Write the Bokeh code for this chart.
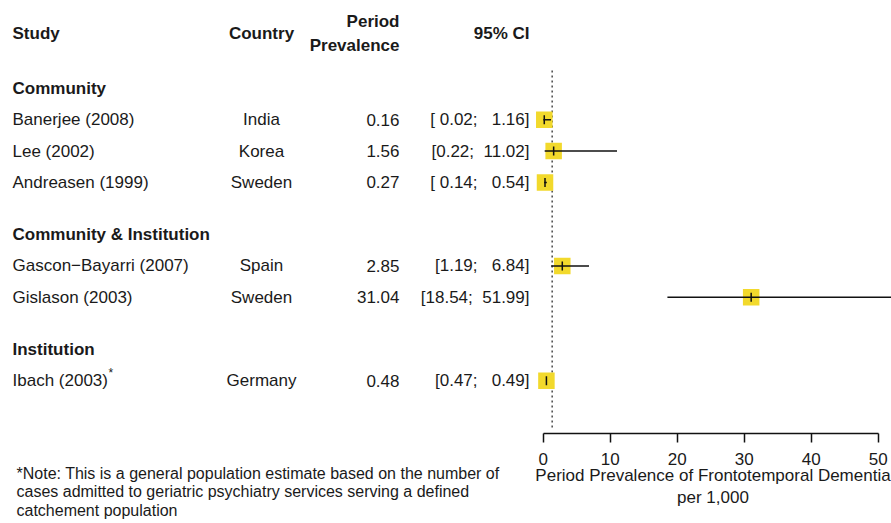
import math
from bokeh.plotting import figure
from bokeh.models import Range1d, LinearAxis, FixedTicker, ColumnDataSource, Title
from bokeh.layouts import row
from bokeh.core.properties import value
from bokeh.embed import file_html
from bokeh.resources import INLINE

# ---- data ----
groups = ["Community", "Community & Institution", "Institution"]
studies = ["Banerjee (2008)", "Lee (2002)", "Andreasen (1999)",
           "Gascon\u2212Bayarri (2007)", "Gislason (2003)", "Ibach (2003)"]
study_group = [0, 0, 0, 1, 1, 2]
countries = ["India", "Korea", "Sweden", "Spain", "Sweden", "Germany"]
prevalence = [0.16, 1.56, 0.27, 2.85, 31.04, 0.48]
ci_lower = [0.02, 0.22, 0.14, 1.19, 18.54, 0.47]
ci_upper = [1.16, 11.02, 0.54, 6.84, 51.99, 0.49]
ci_labels = ["[ 0.02;   1.16]", "[0.22;  11.02]", "[ 0.14;   0.54]",
             "[1.19;   6.84]", "[18.54;  51.99]", "[0.47;   0.49]"]
pooled = 1.34
x_ticks = [0, 10, 20, 30, 40, 50]
note_lines = ["*Note: This is a general population estimate based on the number of",
              "cases admitted to geriatric psychiatry services serving a defined",
              "catchement population"]

FONT = "Liberation Sans"
TXT = "#1a1a1a"
NB = "\u00a0"

# ---- row layout (px from top) ----
ROW0 = 88.0
STEP = 31.3
GAP = 0.67          # extra blank fraction of a row between groups
group_pos = {}
study_y = []
k = 0.0
prev_g = None
for g in study_group:
    if g != prev_g:
        if prev_g is not None:
            k += GAP
        group_pos[g] = ROW0 + STEP * k
        k += 1
        prev_g = g
    study_y.append(ROW0 + STEP * k)
    k += 1
group_y = [group_pos[i] for i in range(len(groups))]

H = 523
LW = 534
RW = 357
FRAME_H = 433
BOTTOM = H - FRAME_H

# ---- left table figure ----
left = figure(width=LW, height=H, output_backend="svg", toolbar_location=None,
              x_range=Range1d(0, LW), y_range=Range1d(FRAME_H, 0),
              min_border=0, min_border_bottom=BOTTOM, outline_line_color=None,
              x_axis_location=None, y_axis_location=None)
left.grid.visible = False

def txt(fig, xs, ys, texts, align="left", bold=False, size="17px"):
    src = ColumnDataSource(dict(x=xs, y=ys, t=[t.replace(" ", NB) for t in texts]))
    fig.text(x="x", y="y", text="t", source=src, text_align=align,
             text_baseline="middle", text_font=value(FONT), text_font_size=size,
             text_font_style="bold" if bold else "normal", text_color=TXT)

X_STUDY, X_COUNTRY, X_PREV, X_CI = 12, 261, 399, 529

# headers
txt(left, [X_STUDY], [33], ["Study"], bold=True)
txt(left, [X_COUNTRY], [33], ["Country"], align="center", bold=True)
txt(left, [X_PREV, X_PREV], [21, 45], ["Period", "Prevalence"], align="right", bold=True)
txt(left, [X_CI], [33], ["95% CI"], align="right", bold=True)

# group headers
txt(left, [X_STUDY] * len(groups), group_y, groups, bold=True)

# study rows
txt(left, [X_STUDY] * len(studies), study_y, studies)
txt(left, [X_COUNTRY] * len(studies), study_y, countries, align="center")
txt(left, [X_PREV] * len(studies), study_y, [f"{v:.2f}" for v in prevalence], align="right")
txt(left, [X_CI] * len(studies), study_y, ci_labels, align="right")

# asterisk on Ibach
txt(left, [X_STUDY + 96], [study_y[-1] - 8], ["*"], size="12px")

# note (below the table frame): an empty spacer title, then the note itself
spacer = Title(text=NB, text_font_size="1px", standoff=28)
left.add_layout(spacer, "below")
note = Title(text="\n".join(note_lines), align="left", offset=16, standoff=0,
             vertical_align="top",
             text_font=FONT, text_font_size="16px", text_font_style="normal",
             text_color=TXT, text_line_height=1.1)
left.add_layout(note, "below")

# ---- right forest figure ----
xscale = 6.7
x0 = -8.7 / xscale
right = figure(width=RW, height=H, output_backend="svg", toolbar_location=None,
               x_range=Range1d(x0, x0 + RW / xscale), y_range=Range1d(FRAME_H, 0),
               min_border=0, min_border_bottom=BOTTOM,
               outline_line_color=None, x_axis_location=None, y_axis_location=None)
right.grid.visible = False

# reference (pooled) line
right.segment(x0=[pooled], y0=[70], x1=[pooled], y1=[427], line_color="#555555",
              line_width=1.6, line_dash="2 3")

src = ColumnDataSource(dict(y=study_y, est=prevalence, lo=ci_lower, hi=ci_upper))
right.scatter(x="est", y="y", source=src, marker="square", size=16.5,
              fill_color="#F2D92C", line_color=None)
right.segment(x0="lo", y0="y", x1="hi", y1="y", source=src,
              line_color="#111111", line_width=1.5)
right.scatter(x="est", y="y", source=src, marker="dash", angle=math.pi / 2, size=9,
              line_color="#111111", line_width=1.5)

ax = LinearAxis(ticker=FixedTicker(ticks=x_ticks), bounds=(0, 50))
ax.axis_line_color = "#111111"
ax.axis_line_width = 1.5
ax.major_tick_line_color = "#111111"
ax.major_tick_line_width = 1.5
ax.major_tick_out = 9
ax.major_tick_in = 0
ax.minor_tick_line_color = None
ax.major_label_standoff = 10
ax.major_label_text_font = FONT
ax.major_label_text_font_size = "17px"
ax.major_label_text_color = TXT
ax.axis_label = "Period Prevalence of Frontotemporal Dementia\nper 1,000"
ax.axis_label_text_font = FONT
ax.axis_label_text_font_size = "17px"
ax.axis_label_text_font_style = "normal"
ax.axis_label_text_color = TXT
ax.axis_label_standoff = -2
ax.axis_label_text_line_height = 1.17
right.add_layout(ax, "below")

layout = row(left, right, spacing=0)
open("out.html", "w").write(file_html(layout, INLINE))
